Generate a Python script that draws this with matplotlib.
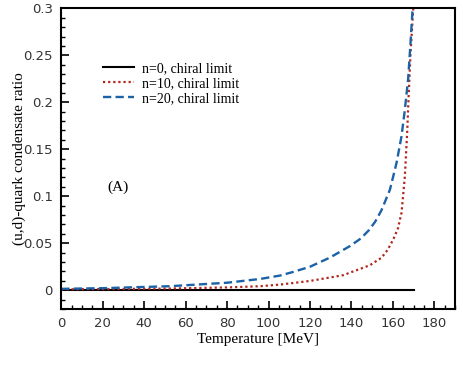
import numpy as np
import matplotlib
matplotlib.use("Agg")
import matplotlib.pyplot as plt
from matplotlib.ticker import MultipleLocator

# data
tempN0 = [0, 170]
ratioN0 = [0.0, 0.0]

tempN10 = [0, 20, 52, 80, 96, 105.5, 120, 136, 148.9, 154.6, 157.5, 160.2, 162.5, 164.2, 165.8, 166.9, 167.6, 168.5, 169.8, 170.2]
ratioN10 = [0.001, 0.0012, 0.0018, 0.003, 0.0043, 0.006, 0.0099, 0.016, 0.0266, 0.0347, 0.043, 0.054, 0.066, 0.0825, 0.121, 0.167, 0.205, 0.25, 0.298, 0.305]

tempN20 = [0, 20, 52.4, 80, 95.9, 105.5, 111.9, 120, 129.6, 139.3, 144.5, 148.5, 151.5, 154.5, 158.6, 161.8, 164.2, 165.8, 167.4, 168.5, 169.5, 169.9]
ratioN20 = [0.0015, 0.0022, 0.0043, 0.008, 0.012, 0.0156, 0.0195, 0.025, 0.0347, 0.047, 0.055, 0.064, 0.073, 0.085, 0.107, 0.1356, 0.164, 0.192, 0.225, 0.262, 0.298, 0.305]

labels = ["n=0, chiral limit", "n=10, chiral limit", "n=20, chiral limit"]

serif = "Liberation Serif"

fig = plt.figure(figsize=(4.63, 3.71), dpi=100)
ax = fig.add_axes([0.1324, 0.167, 0.8503, 0.8106])

ax.plot(tempN0, ratioN0, c="black", lw=1.5, label=labels[0])
ax.plot(tempN10, ratioN10, c="#b3261e", lw=1.6, ls=(0, (1, 1.3)), label=labels[1])
ax.plot(tempN20, ratioN20, c="#1b62a6", lw=1.7, ls=(0, (3.5, 1.8)), label=labels[2])

ax.set_xlim(0, 190)
ax.set_ylim(-0.02, 0.3)
ax.set_xticks(np.arange(0, 181, 20))
ax.set_yticks([0, 0.05, 0.1, 0.15, 0.2, 0.25, 0.3])
ax.set_yticklabels(["0", "0.05", "0.1", "0.15", "0.2", "0.25", "0.3"])
ax.xaxis.set_minor_locator(MultipleLocator(5))
ax.yaxis.set_minor_locator(MultipleLocator(0.01))
ax.tick_params(which="both", direction="in", top=False, right=False, labelsize=9.5, labelcolor="#333333")
ax.tick_params(which="major", length=6, width=1.2)
ax.tick_params(which="minor", length=3, width=1.0)
ax.tick_params(axis="x", pad=6)
ax.tick_params(axis="y", pad=6)
for sp in ax.spines.values():
    sp.set_linewidth(1.5)

ax.set_xlabel("Temperature [MeV]", fontsize=11, family=serif, labelpad=2)
ax.set_ylabel("(u,d)-quark condensate ratio", fontsize=11, family=serif, labelpad=-2)

ax.text(0.118, 0.393, "(A)", transform=ax.transAxes, fontsize=11, family=serif)

leg = ax.legend(loc="upper left", bbox_to_anchor=(0.074, 0.863), frameon=False,
                prop={"family": serif, "size": 10}, handlelength=2.27,
                handletextpad=0.53, labelspacing=0.15)

plt.savefig("out.png", dpi=100)
plt.close()
